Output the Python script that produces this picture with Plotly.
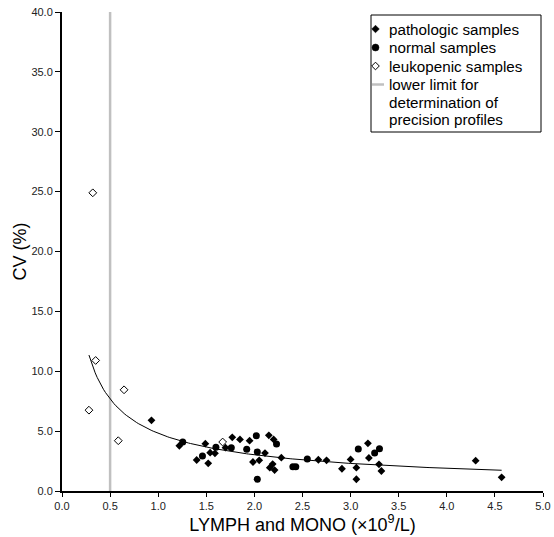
import numpy as np
import plotly.graph_objects as go

# Pathologic samples: (LYMPH+MONO count, CV %)
patho_x = [0.93, 1.22, 1.49, 1.40, 1.52, 1.54, 1.59, 1.70, 1.77, 1.85, 1.95, 1.985,
           2.05, 2.11, 2.15, 2.16, 2.19, 2.21, 2.20, 2.28, 2.665, 2.75, 2.91, 3.00,
           3.06, 3.06, 3.18, 3.19, 3.295, 3.32, 4.30, 4.57]
patho_y = [5.90, 3.78, 3.95, 2.59, 2.31, 3.20, 3.15, 3.62, 4.48, 4.31, 4.20, 2.42,
           2.56, 3.17, 4.65, 1.95, 2.25, 1.75, 4.31, 2.78, 2.61, 2.56, 1.86, 2.64,
           1.95, 0.98, 3.98, 2.76, 2.23, 1.67, 2.53, 1.14]

# Normal samples
normal_x = [1.255, 1.46, 1.60, 1.76, 1.92, 2.02, 2.03, 2.03, 2.23, 2.40, 2.43, 2.55,
            3.08, 3.25, 3.30]
normal_y = [4.10, 2.92, 3.65, 3.62, 3.48, 4.62, 3.26, 0.98, 3.92, 2.03, 2.03, 2.67,
            3.50, 3.17, 3.53]

# Leukopenic samples
leuko_x = [0.32, 0.35, 0.28, 0.585, 0.645, 1.67]
leuko_y = [24.9, 10.9, 6.75, 4.20, 8.45, 4.09]

# Lower count limit used for the precision profiles
lower_limit = 0.5

x_ticks = [0.0, 0.5, 1.0, 1.5, 2.0, 2.5, 3.0, 3.5, 4.0, 4.5, 5.0]
y_ticks = [0.0, 5.0, 10.0, 15.0, 20.0, 25.0, 30.0, 35.0, 40.0]

# Power-law trend (y = a * x^b) fitted over all samples
all_x = np.array(patho_x + normal_x + leuko_x)
all_y = np.array(patho_y + normal_y + leuko_y)
b, ln_a = np.polyfit(np.log(all_x), np.log(all_y), 1)
trend_x = np.linspace(all_x.min(), all_x.max(), 200)
trend_y = np.exp(ln_a) * trend_x ** b

FONT = "Liberation Sans, Arial, sans-serif"

fig = go.Figure()

fig.add_trace(go.Scatter(x=trend_x, y=trend_y, mode="lines",
                         line=dict(color="black", width=1), name="trend",
                         hoverinfo="skip"))
fig.add_trace(go.Scatter(x=patho_x, y=patho_y, mode="markers", name="pathologic samples",
                         marker=dict(symbol="diamond", size=6, color="black")))
fig.add_trace(go.Scatter(x=normal_x, y=normal_y, mode="markers", name="normal samples",
                         marker=dict(symbol="circle", size=7, color="black")))
fig.add_trace(go.Scatter(x=leuko_x, y=leuko_y, mode="markers", name="leukopenic samples",
                         marker=dict(symbol="diamond", size=6, color="white",
                                     line=dict(color="black", width=1))))

# vertical lower-limit line
fig.add_shape(type="line", xref="x", yref="y", x0=lower_limit, x1=lower_limit,
              y0=0, y1=40, line=dict(color="#c0c0c0", width=2.5), layer="below")

# ---- legend box drawn in paper coordinates ----
L, R, T, B = 62, 543, 12, 491          # plot area in pixels
PW, PH = R - L, B - T


def px(xp):
    return (xp - L) / PW


def py(yp):
    return (B - yp) / PH


fig.add_shape(type="rect", xref="paper", yref="paper",
              x0=px(371), x1=px(541), y0=py(132), y1=py(15),
              line=dict(color="black", width=1), fillcolor="white")

mx = 375.5
# filled diamond
r = 3.8
yc = 29
fig.add_shape(type="path", xref="paper", yref="paper",
              path=f"M {px(mx - r)} {py(yc)} L {px(mx)} {py(yc - r)} L {px(mx + r)} {py(yc)} "
                   f"L {px(mx)} {py(yc + r)} Z",
              fillcolor="black", line=dict(color="black", width=0.5))
# filled circle
yc = 47.5
fig.add_shape(type="circle", xref="paper", yref="paper",
              x0=px(mx - 3.5), x1=px(mx + 3.5), y0=py(yc + 3.5), y1=py(yc - 3.5),
              fillcolor="black", line=dict(color="black", width=0.5))
# open diamond
yc = 66
fig.add_shape(type="path", xref="paper", yref="paper",
              path=f"M {px(mx - r)} {py(yc)} L {px(mx)} {py(yc - r)} L {px(mx + r)} {py(yc)} "
                   f"L {px(mx)} {py(yc + r)} Z",
              fillcolor="white", line=dict(color="black", width=1))
# gray line swatch
yc = 84.5
fig.add_shape(type="line", xref="paper", yref="paper",
              x0=px(372), x1=px(384), y0=py(yc), y1=py(yc),
              line=dict(color="#c0c0c0", width=2.5))

legend_lines = [
    ("pathologic samples", 29),
    ("normal samples", 47.5),
    ("leukopenic samples", 66),
    ("lower limit for", 84.5),
    ("determination of", 102),
    ("precision profiles", 119.5),
]
for text, yc in legend_lines:
    fig.add_annotation(x=px(387), y=py(yc), xref="paper", yref="paper",
                       text=text, showarrow=False, xanchor="left", yanchor="middle",
                       font=dict(family=FONT, size=15.2, color="black"))

fig.update_layout(
    width=554, height=537,
    margin=dict(l=L, r=554 - R, t=T, b=537 - B, pad=0, autoexpand=False),
    paper_bgcolor="white", plot_bgcolor="white",
    showlegend=False,
    font=dict(family=FONT, color="#222"),
)
fig.update_xaxes(
    range=[0, 5], tickvals=x_ticks, ticktext=[f"{v:.1f}" for v in x_ticks],
    showline=True, linecolor="black", linewidth=2, mirror=False,
    ticks="outside", ticklen=4, tickwidth=1, tickcolor="black",
    showgrid=False, zeroline=False, automargin=False,
    tickfont=dict(family=FONT, size=11, color="#222"),
    title=dict(text="LYMPH and MONO (×10<sup>9</sup>/L)",
               font=dict(family=FONT, size=18, color="black"), standoff=4),
)
fig.update_yaxes(
    range=[0, 40], tickvals=y_ticks, ticktext=[f"{v:.1f}" for v in y_ticks],
    showline=True, linecolor="black", linewidth=2, mirror=False,
    ticks="outside", ticklen=5, tickwidth=1, tickcolor="black",
    showgrid=False, zeroline=False, automargin=False,
    tickfont=dict(family=FONT, size=11, color="#222"),
    title=dict(text="CV (%)", font=dict(family=FONT, size=18, color="black"), standoff=0),
)

fig.write_html("out.html")
